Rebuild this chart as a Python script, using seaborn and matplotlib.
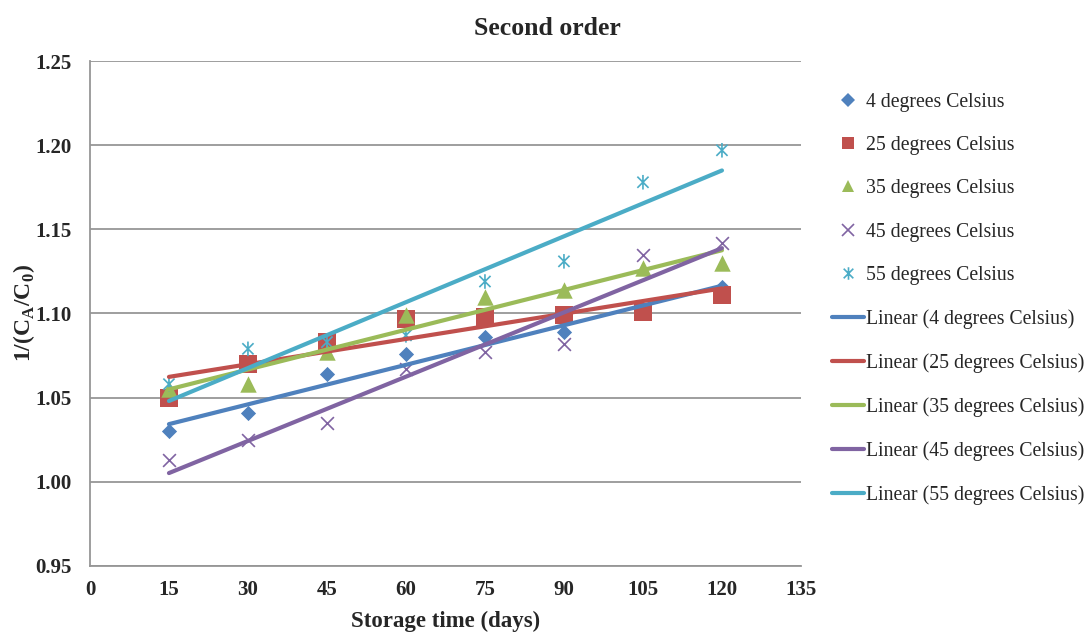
import matplotlib
matplotlib.use("Agg")
import matplotlib.pyplot as plt
from matplotlib.path import Path
from matplotlib.lines import Line2D
import seaborn as sns
import pandas as pd
import numpy as np

# storage time (days) and 1/(CA/C0) per temperature
days = [15, 30, 45, 60, 75, 90, 105, 120]
t4 = [1.030, 1.041, 1.064, 1.076, 1.086, 1.089, 1.101, 1.116]
t25 = [1.050, 1.070, 1.083, 1.097, 1.098, 1.099, 1.101, 1.111]
t35 = [1.055, 1.058, 1.077, 1.099, 1.110, 1.114, 1.127, 1.130]
t45 = [1.013, 1.025, 1.035, 1.067, 1.077, 1.082, 1.135, 1.142]
t55 = [1.058, 1.079, 1.083, 1.087, 1.119, 1.131, 1.178, 1.197]

series_names = ["4 degrees Celsius", "25 degrees Celsius", "35 degrees Celsius",
                "45 degrees Celsius", "55 degrees Celsius"]
series_values = [t4, t25, t35, t45, t55]
colors = ["#4F81BD", "#C0504D", "#9BBB59", "#8064A2", "#4BACC6"]

# excel style asterisk: an x with a vertical bar
asterisk = Path([(-1, -1), (1, 1), (-1, 1), (1, -1), (0, -1.3), (0, 1.3)],
                [Path.MOVETO, Path.LINETO, Path.MOVETO, Path.LINETO, Path.MOVETO, Path.LINETO])
markers = ["D", "s", "^", "x", asterisk]
sizes = [60, 150, 140, 85, 110]
leg_sizes = [7, 9, 9, 8, 9]

sns.set_style("white")
plt.rcParams["font.family"] = ["Liberation Serif", "DejaVu Serif"]
plt.rcParams["mathtext.fontset"] = "custom"
plt.rcParams["mathtext.rm"] = "Liberation Serif"
plt.rcParams["mathtext.bf"] = "Liberation Serif:bold"

fig = plt.figure(figsize=(10.89, 6.33), dpi=100)
ax = fig.add_axes([0.0826, 0.106, 0.6529, 0.7975])

handles = []
for i, (name, vals, col, mk, sz, ls) in enumerate(zip(series_names, series_values, colors,
                                                      markers, sizes, leg_sizes)):
    df = pd.DataFrame({"day": days, "val": vals})
    filled = i < 3
    if filled:
        sns.scatterplot(data=df, x="day", y="val", marker=mk, s=sz, color=col,
                        edgecolor=col, linewidth=0, ax=ax, zorder=3)
    elif mk == "x":
        sns.scatterplot(data=df, x="day", y="val", marker=mk, s=sz, color=col,
                        linewidth=1.2, ax=ax, zorder=3)
    else:
        sns.scatterplot(data=df, x="day", y="val", marker=mk, s=sz, color=col,
                        edgecolor=col, facecolor="none", linewidth=1.2, ax=ax, zorder=3)
    handles.append(Line2D([], [], linestyle="none", marker=mk, color=col,
                          markeredgecolor=col, markerfacecolor=col if filled else "none",
                          markersize=ls, markeredgewidth=0 if filled else 1.2, label=name))

line_handles = []
for name, vals, col in zip(series_names, series_values, colors):
    df = pd.DataFrame({"day": days, "val": vals})
    sns.regplot(data=df, x="day", y="val", scatter=False, ci=None, truncate=True,
                color=col, line_kws={"linewidth": 3, "zorder": 4}, ax=ax)
    line_handles.append(Line2D([], [], color=col, linewidth=3, label=f"Linear ({name})"))

ax.set_xlim(0, 135)
ax.set_ylim(0.95, 1.25)
ax.set_xticks(np.arange(0, 136, 15))
ax.set_yticks(np.arange(0.95, 1.251, 0.05))
ax.set_yticklabels([f"{v:.2f}" for v in np.arange(0.95, 1.251, 0.05)])
ax.yaxis.grid(True, color="#969696", linewidth=1.3)
ax.set_axisbelow(True)
ax.tick_params(axis="x", length=0, labelsize=15, pad=10)
ax.tick_params(axis="y", length=0, labelsize=15, pad=13)
for lab in ax.get_xticklabels() + ax.get_yticklabels():
    lab.set_fontweight("bold")
for side in ["top", "right"]:
    ax.spines[side].set_visible(False)
for side in ["left", "bottom"]:
    ax.spines[side].set_color("#969696")
    ax.spines[side].set_linewidth(1.3)

ax.set_xlabel("Storage time (days)", fontsize=16.5, fontweight="bold", labelpad=8)
ax.set_ylabel(r"1/(C$_\mathbf{A}$/C$_\mathbf{0}$)", fontsize=17, fontweight="bold", labelpad=-1)
fig.suptitle("Second order", x=0.503, y=0.973, fontsize=18.5, fontweight="bold")

fig.legend(handles=handles + line_handles, loc="center left", bbox_to_anchor=(0.7565, 0.528),
           frameon=False, fontsize=14.2, labelspacing=1.23, handlelength=1.65,
           handletextpad=0.1, borderaxespad=0)

fig.savefig("out.png", dpi=100)
